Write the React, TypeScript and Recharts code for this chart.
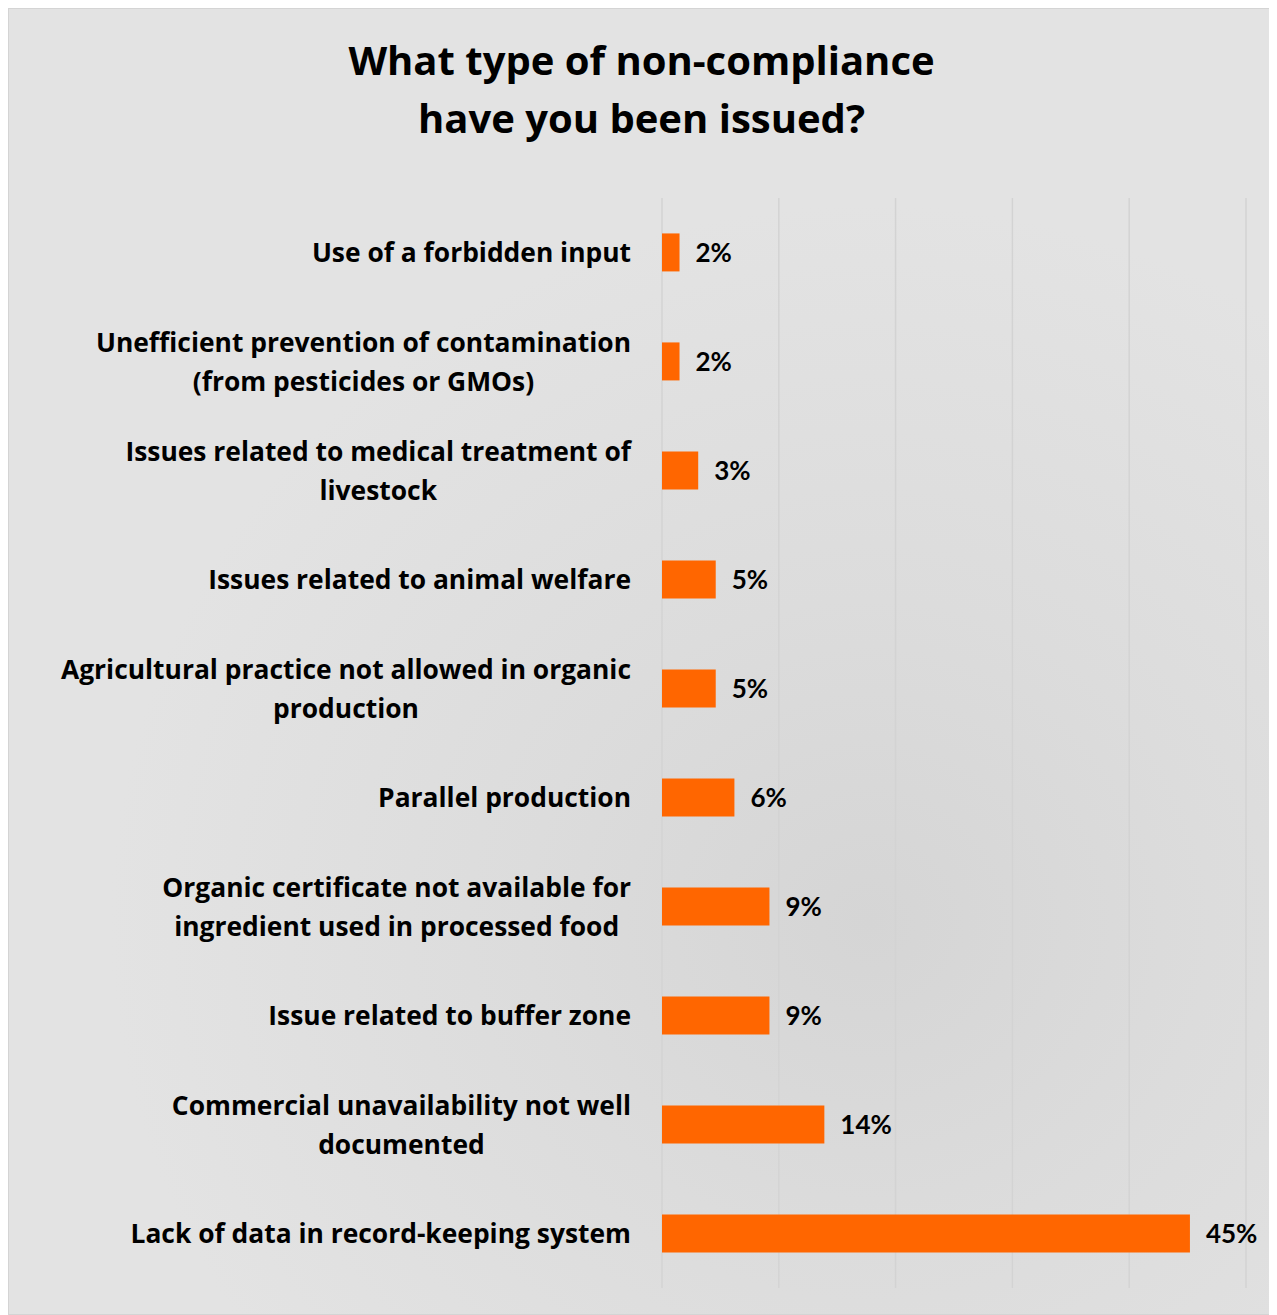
import React from 'react';
import { BarChart, Bar, XAxis, YAxis, CartesianGrid, LabelList } from 'recharts';

const categories = [
  'Use of a forbidden input',
  'Unefficient prevention of contamination\n(from pesticides or GMOs)',
  'Issues related to medical treatment of\nlivestock',
  'Issues related to animal welfare',
  'Agricultural practice not allowed in organic\nproduction',
  'Parallel production',
  'Organic certificate not available for\ningredient used in processed food',
  'Issue related to buffer zone',
  'Commercial unavailability not well\ndocumented',
  'Lack of data in record-keeping system',
];

const shares = [1.5, 1.5, 3.1, 4.6, 4.6, 6.2, 9.2, 9.2, 13.9, 45.2];

const xTicks = [0, 10, 20, 30, 40, 50];

const data = categories.map((name, i) => ({ name, value: shares[i] }));

const LABEL_FONT = '"Open Sans", Lato, sans-serif';
const VALUE_FONT = 'Lato, "Open Sans", sans-serif';
const LABEL_SIZE = 26.4;
const LINE_H = 39;

let measureCtx: CanvasRenderingContext2D | null = null;
const textWidth = (s: string) => {
  if (!measureCtx) measureCtx = document.createElement('canvas').getContext('2d');
  if (!measureCtx) return s.length * 14;
  measureCtx.font = `bold ${LABEL_SIZE}px "Open Sans"`;
  return measureCtx.measureText(s).width;
};

const CategoryTick: React.FC<any> = ({ x, y, payload }) => {
  const lines: string[] = String(payload.value).split('\n');
  const maxW = Math.max(...lines.map(textWidth));
  const right = x - 31;
  const cx = right - maxW / 2;
  const startY = y - ((lines.length - 1) * LINE_H) / 2;
  return (
    <text
      x={cx}
      y={startY}
      textAnchor="middle"
      fontFamily={LABEL_FONT}
      fontWeight="bold"
      fontSize={LABEL_SIZE}
      fill="#000"
    >
      {lines.map((l, i) => (
        <tspan key={i} x={cx} y={startY + i * LINE_H} dy="0.36em">
          {l}
        </tspan>
      ))}
    </text>
  );
};

const App: React.FC = () => {
  return (
    <div
      style={{
        position: 'relative',
        width: 1267,
        height: 1307,
        boxSizing: 'border-box',
        border: '1px solid #d4d4d4',
        background:
          'radial-gradient(ellipse 60% 55% at 68% 70%, #d5d5d5 0%, #dcdcdc 45%, #e3e3e3 100%)',
        fontFamily: LABEL_FONT,
      }}
    >
      <div
        style={{
          position: 'absolute',
          top: 22,
          left: 0,
          width: '100%',
          textAlign: 'center',
          fontWeight: 'bold',
          fontSize: 40,
          lineHeight: '58px',
          color: '#000',
        }}
      >
        What type of non-compliance
        <br />
        have you been issued?
      </div>
      <BarChart
        width={1265}
        height={1305}
        data={data}
        layout="vertical"
        barCategoryGap="32.5%"
        margin={{ top: 189, right: 28, bottom: 26, left: 0 }}
        style={{ position: 'absolute', top: 0, left: 0 }}
      >
        <CartesianGrid horizontal={false} stroke="#d3d3d3" strokeWidth={1.5} />
        <XAxis type="number" domain={[0, 50]} ticks={xTicks} hide />
        <YAxis
          type="category"
          dataKey="name"
          width={653}
          axisLine={false}
          tickLine={false}
          tickSize={0}
          tickMargin={0}
          tick={<CategoryTick />}
          interval={0}
        />
        <Bar dataKey="value" fill="#ff6600" isAnimationActive={false}>
          <LabelList
            dataKey="value"
            position="right"
            offset={16}
            formatter={(v: any) => `${Math.round(Number(v))}%`}
            style={{ fontFamily: VALUE_FONT, fontWeight: 'bold', fontSize: 26, fill: '#000' }}
          />
        </Bar>
      </BarChart>
    </div>
  );
};

export default App;
